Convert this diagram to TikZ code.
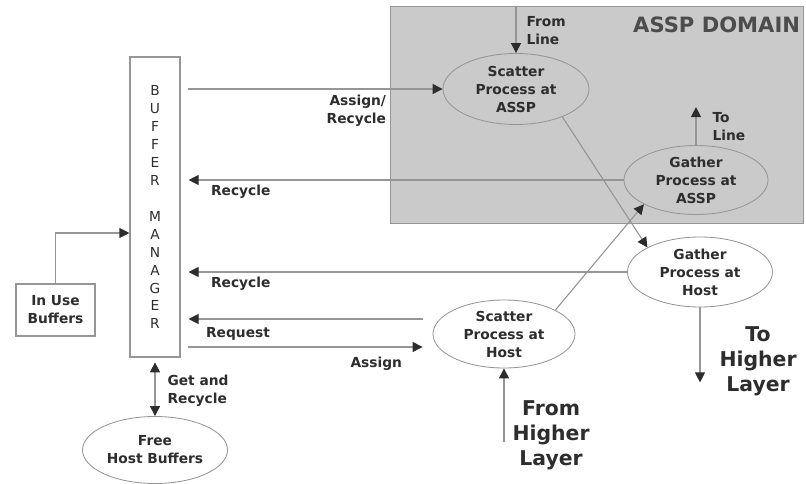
\documentclass[tikz,border=0pt]{standalone}
\usepackage{fontspec}
\setmainfont{DejaVu Sans}
\usepackage{tikz}
\usetikzlibrary{positioning,shapes.geometric,arrows.meta,calc}
\definecolor{domaingray}{RGB}{202,202,202}
\definecolor{edgegray}{RGB}{150,150,150}
\definecolor{inkgray}{RGB}{45,45,45}

\begin{document}
\begin{tikzpicture}[
    lbl/.style={font=\bfseries\fontsize{9.8}{12.8}\selectfont, text=inkgray, align=left, inner sep=0pt},
    biglbl/.style={font=\bfseries\fontsize{14.5}{17.8}\selectfont, text=inkgray, align=center, inner sep=0pt},
    proc/.style={ellipse, draw=edgegray, line width=0.6pt, inner sep=0pt, align=center,
                 font=\bfseries\fontsize{9.8}{12.8}\selectfont, text=inkgray},
    box/.style={draw=edgegray, line width=0.8pt, align=center,
                font=\bfseries\fontsize{9.8}{12.8}\selectfont, text=inkgray},
    arr/.style={->, >={Triangle[length=0.25cm, width=0.25cm, color=inkgray]}, draw=edgegray, line width=0.8pt}
]
\useasboundingbox[fill=white] (0,0) rectangle (20.15,-12.1);
\node[draw=edgegray, fill=domaingray, minimum width=10.325cm, minimum height=5.425cm] (domain) at (14.9125,-2.8625) {};
\node[font=\bfseries\fontsize{15}{18}\selectfont, text=inkgray!85, inner sep=0pt, anchor=north east] (domtitle)
    at ($(domain.north east)+(-0.075,-0.28)$) {ASSP DOMAIN};
\node[box, minimum width=1.25cm, minimum height=7.5cm, font=\fontsize{9.8}{12.8}\selectfont] (bufmgr) at (3.875,-5.175)
    {B\\U\\F\\F\\E\\R\\[12.8pt]M\\A\\N\\A\\G\\E\\R};
\node[box, minimum width=1.975cm, minimum height=1.3cm] (inuse) at (1.3875,-7.75) {In Use\\Buffers};
\node[proc, minimum width=3.625cm, minimum height=1.675cm] (freebuf) at (3.875,-11.25) {Free\\Host Buffers};
\node[proc, minimum width=3.65cm, minimum height=1.775cm] (scatterA) at (12.9,-2.225) {Scatter\\Process at\\ASSP};
\node[proc, minimum width=3.6cm, minimum height=1.725cm] (gatherA) at (17.4,-4.5) {Gather\\Process at\\ASSP};
\node[proc, minimum width=3.625cm, minimum height=1.75cm] (gatherH) at (17.5,-6.8) {Gather\\Process at\\Host};
\node[proc, minimum width=3.55cm, minimum height=1.7cm] (scatterH) at (12.6,-8.35) {Scatter\\Process at\\Host};
\coordinate (fromline) at (scatterA.north |- domain.north);
\coordinate (toline) at ($(gatherA.north)+(0,0.95)$);
\coordinate (tohigher) at ($(gatherH.south)+(0,-1.875)$);
\coordinate (fromhigher) at ($(scatterH.south)+(0,-1.85)$);
\coordinate (reqstart) at ($(scatterH.west)+(-0.25,0.375)$);
\coordinate (asgend) at ($(scatterH.west)+(-0.25,-0.325)$);
\draw[arr] (inuse.north) |- ($(bufmgr.west)+(0,-0.65)$);
\draw[arr, <->, shorten <=0.12cm] (bufmgr.south) -- (freebuf.north)
    node[lbl, midway, anchor=west, xshift=0.3cm, yshift=-0.1cm] {Get and\\Recycle};
\draw[arr] ($(bufmgr.east |- scatterA.west)+(0.175,0)$) -- (scatterA.west)
    node[lbl, pos=1, anchor=north east, align=right, xshift=-1.4cm, yshift=-0.125cm] {Assign/\\Recycle};
\draw[arr] (gatherA.west) -- ($(bufmgr.east |- gatherA.west)+(0.2,0)$)
    node[lbl, pos=1, anchor=north west, xshift=0.55cm, yshift=-0.1cm] {Recycle};
\draw[arr] (gatherH.west) -- ($(bufmgr.east |- gatherH.west)+(0.2,0)$)
    node[lbl, pos=1, anchor=north west, xshift=0.55cm, yshift=-0.1cm] {Recycle};
\draw[arr] (reqstart) -- ($(bufmgr.east |- reqstart)+(0.2,0)$)
    node[lbl, pos=1, anchor=north west, xshift=0.425cm, yshift=-0.2cm] {Request};
\draw[arr] ($(bufmgr.east |- asgend)+(0.175,0)$) -- (asgend)
    node[lbl, pos=1, anchor=north east, xshift=-0.5cm, yshift=-0.225cm] {Assign};
\draw[arr] (fromline) -- (scatterA.north)
    node[lbl, pos=0, anchor=north west, xshift=0.25cm, yshift=-0.25cm] {From\\Line};
\draw[arr] (gatherA.north) -- (toline)
    node[lbl, pos=1, anchor=north west, xshift=0.4cm, yshift=-0.125cm] {To\\Line};
\draw[arr] (gatherH.south) -- (tohigher)
    node[biglbl, pos=0.72, anchor=west, xshift=0.475cm] {To\\Higher\\Layer};
\draw[arr] (fromhigher) -- (scatterH.south)
    node[biglbl, pos=0.1, anchor=west, xshift=0.2cm] {From\\Higher\\Layer};
\draw[arr] (scatterA.-31) -- (gatherH.155);
\draw[arr] (scatterH.25) -- (gatherA.205);
\end{tikzpicture}
\end{document}
